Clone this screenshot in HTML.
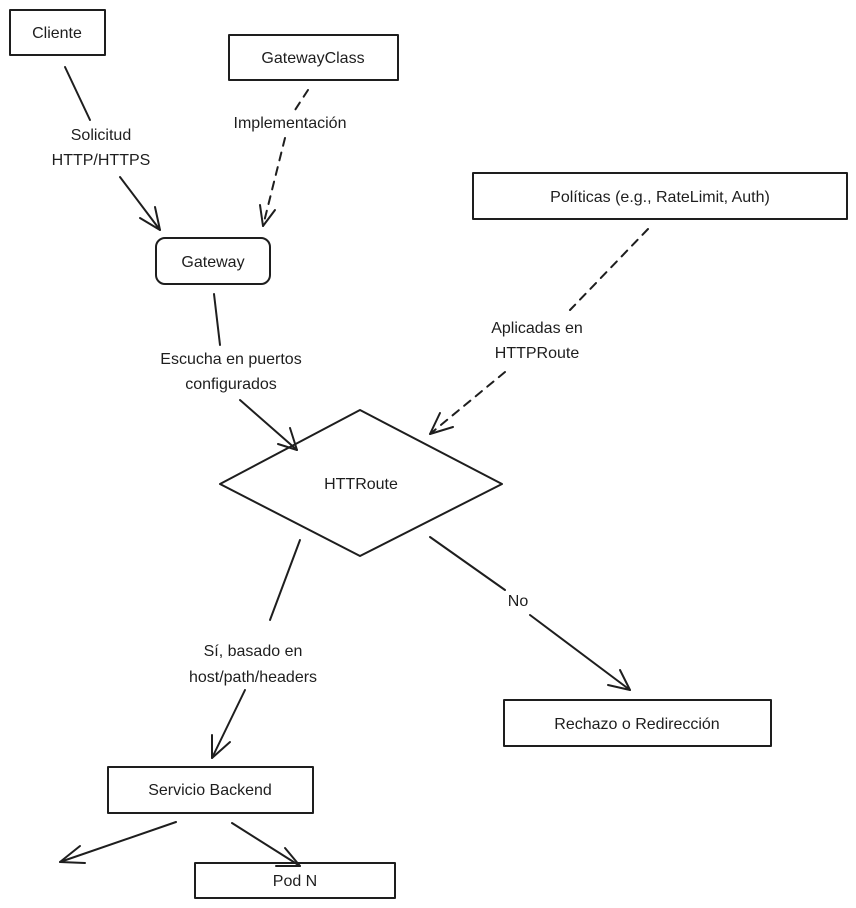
<!DOCTYPE html>
<html><head><meta charset="utf-8"><style>
html,body{margin:0;padding:0;background:#fff;}
svg{display:block}
text{font-family:"Liberation Sans",sans-serif;font-size:16px;fill:#1e1e1e;}
</style></head><body>
<svg width="856" height="908" viewBox="0 0 856 908" xmlns="http://www.w3.org/2000/svg">
<g fill="none" stroke="#1e1e1e" stroke-width="2" stroke-linecap="round" stroke-linejoin="round">
<rect x="10" y="10" width="95" height="45"/>
<rect x="229" y="35" width="169" height="45"/>
<rect x="156" y="238" width="114" height="46" rx="9"/>
<rect x="473" y="173" width="374" height="46"/>
<polygon points="220,484 360,410 502,484 360,556"/>
<rect x="504" y="700" width="267" height="46"/>
<rect x="108" y="767" width="205" height="46"/>
<rect x="195" y="863" width="200" height="35"/>
<!-- Cliente -> Gateway -->
<path d="M65,67 L90,120"/><path d="M120,177 L160,230"/><path d="M140,218 L160,230 L155,207"/>
<!-- GatewayClass dashed -->
<g stroke-dasharray="8,7"><path d="M308,90 L295,110"/><path d="M285,138 L263,226"/></g>
<path d="M260,205 L263,226 L275,210"/>
<!-- Gateway -> HTTRoute -->
<path d="M214,294 L220,345"/><path d="M240,400 L297,450"/><path d="M278,444 L297,450 L290,428"/>
<!-- Politicas dashed -->
<g stroke-dasharray="8,7"><path d="M648,229 L570,310"/><path d="M505,372 L430,434"/></g>
<path d="M453,427 L430,434 L440,413"/>
<!-- HTTRoute -> Servicio -->
<path d="M300,540 L270,620"/><path d="M245,690 L212,758"/><path d="M212,735 L212,758 L230,742"/>
<!-- HTTRoute -> Rechazo -->
<path d="M430,537 L505,590"/><path d="M530,615 L630,690"/><path d="M608,685 L630,690 L620,670"/>
<!-- Servicio -> left/pod -->
<path d="M176,822 L60,862"/><path d="M80,846 L60,862 L85,863"/>
<path d="M232,823 L300,866"/><path d="M276,866 L300,866 L285,848"/>
</g>
<text x="57" y="38" text-anchor="middle">Cliente</text>
<text x="313" y="63" text-anchor="middle">GatewayClass</text>
<text x="213" y="267" text-anchor="middle">Gateway</text>
<text x="660" y="202" text-anchor="middle">Políticas (e.g., RateLimit, Auth)</text>
<text x="361" y="489" text-anchor="middle">HTTRoute</text>
<text x="637" y="729" text-anchor="middle">Rechazo o Redirección</text>
<text x="210" y="795" text-anchor="middle">Servicio Backend</text>
<text x="295" y="886" text-anchor="middle">Pod N</text>
<text x="101" y="140" text-anchor="middle">Solicitud</text>
<text x="101" y="165" text-anchor="middle">HTTP/HTTPS</text>
<text x="290" y="128" text-anchor="middle">Implementación</text>
<text x="231" y="364" text-anchor="middle">Escucha en puertos</text>
<text x="231" y="389" text-anchor="middle">configurados</text>
<text x="537" y="333" text-anchor="middle">Aplicadas en</text>
<text x="537" y="358" text-anchor="middle">HTTPRoute</text>
<text x="253" y="656" text-anchor="middle">Sí, basado en</text>
<text x="253" y="682" text-anchor="middle">host/path/headers</text>
<text x="518" y="606" text-anchor="middle">No</text>
</svg>
</body></html>
